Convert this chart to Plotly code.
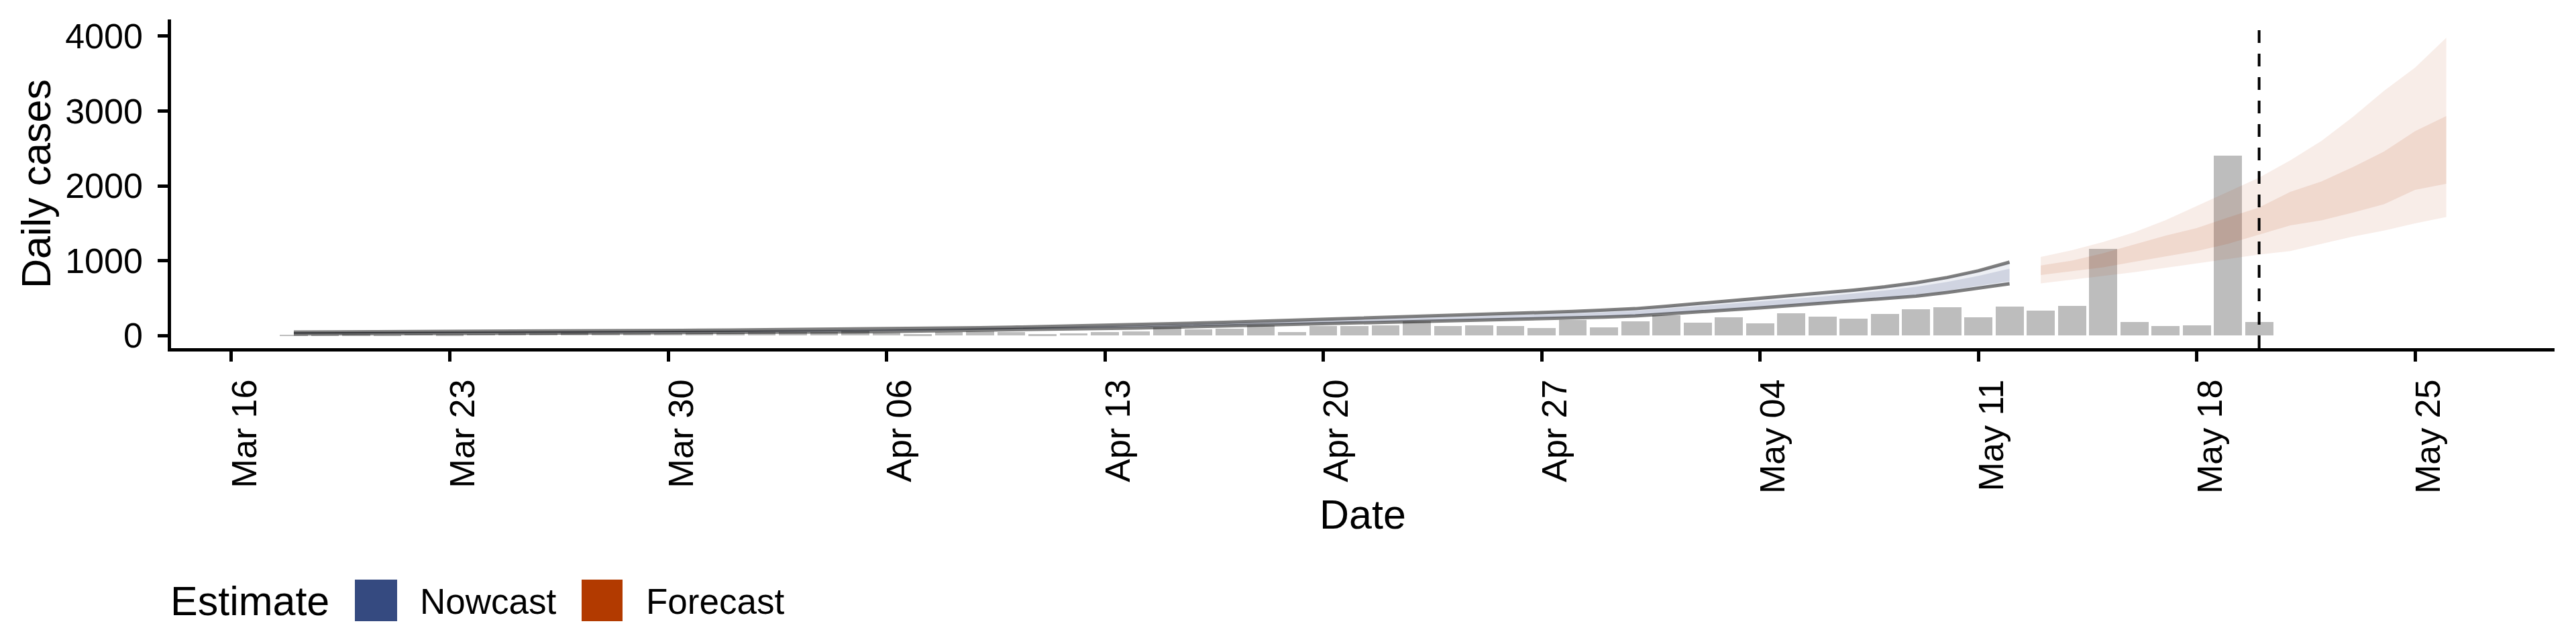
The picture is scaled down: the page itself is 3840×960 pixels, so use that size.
import pandas as pd
import plotly.graph_objects as go

# ---------------- data ----------------
BAR_START = "2020-03-18"
BAR_CASES = [8, 10, 14, 12, 20, 16, 22, 28, 25, 32, 30, 24, 30, 38, 35, 45, 42,
             48, 63, 33, 15, 48, 51, 42, 15, 24, 42, 51, 105, 81, 90, 133, 42, 126,
             122, 131, 188, 122, 131, 122, 103, 204, 105, 186,
             268, 168, 241, 159, 296, 250, 223, 287, 350, 378, 242, 387, 332, 396,
             1160, 178, 124, 133, 2400, 178]

NOW_START = "2020-03-18"
NOW_TOP = [45, 46, 48, 49, 51, 52, 54, 56, 58, 60, 62, 64, 66, 69, 72, 75, 78, 81, 84, 88,
           93, 98, 104, 110, 118, 127, 137, 147, 156, 166, 178, 190, 202, 214, 226, 238,
           250, 262, 275, 289, 304, 320, 338, 358, 390, 425, 460, 495, 525, 560, 605, 650,
           705, 775, 865, 980]
NOW_UPPER = [38, 39, 40, 41, 43, 44, 46, 47, 49, 51, 52, 54, 56, 58, 61, 64, 67, 70, 73, 77,
             82, 88, 94, 100, 108, 116, 124, 133, 142, 151, 163, 174, 186, 199, 210, 221,
             232, 243, 255, 267, 280, 294, 310, 329, 359, 391, 424, 457, 488, 521, 560, 601,
             651, 715, 796, 893]
NOW_LOWER = [23, 24, 25, 26, 27, 28, 29, 30, 32, 33, 34, 35, 36, 37, 39, 42, 45, 48, 51, 56,
             61, 67, 73, 80, 87, 94, 100, 106, 114, 123, 133, 144, 156, 169, 179, 189,
             198, 207, 216, 225, 234, 243, 256, 272, 298, 326, 354, 383, 415, 446, 473, 505,
             547, 599, 663, 725]
NOW_BOTTOM = [20, 21, 22, 23, 24, 25, 26, 27, 28, 29, 30, 31, 32, 33, 35, 37, 40, 43, 47, 52,
              57, 63, 69, 76, 83, 89, 95, 100, 108, 117, 127, 138, 150, 163, 173, 182,
              191, 200, 208, 216, 224, 232, 245, 260, 285, 312, 340, 368, 400, 430, 455, 485,
              525, 575, 635, 690]

FC_START = "2020-05-13"
FC_TOP = [1050, 1140, 1250, 1380, 1540, 1730, 1920, 2110, 2340, 2600, 2920, 3270, 3580, 3980]
FC_UPPER = [936, 1000, 1100, 1220, 1335, 1435, 1577, 1712, 1920, 2058, 2250, 2458, 2731, 2933]
FC_LOWER = [808, 856, 910, 984, 1054, 1128, 1224, 1346, 1470, 1538, 1641, 1753, 1946, 2026]
FC_BOTTOM = [696, 744, 792, 846, 904, 962, 1016, 1080, 1128, 1224, 1321, 1401, 1497, 1583]

FORECAST_DATE = "2020-05-20"

TICK_DATES = ["2020-03-16", "2020-03-23", "2020-03-30", "2020-04-06", "2020-04-13",
              "2020-04-20", "2020-04-27", "2020-05-04", "2020-05-11", "2020-05-18",
              "2020-05-25"]
TICK_LABELS = ["Mar 16", "Mar 23", "Mar 30", "Apr 06", "Apr 13", "Apr 20", "Apr 27",
               "May 04", "May 11", "May 18", "May 25"]
Y_TICKS = [0, 1000, 2000, 3000, 4000]

LEGEND_TITLE = "Estimate"
LEGEND_LABELS = ["Nowcast", "Forecast"]
X_TITLE = "Date"
Y_TITLE = "Daily cases"

# ---------------- style ----------------
FONT = "Liberation Sans, Arial, Helvetica, sans-serif"
NOWCAST_COL = "#354a80"
FORECAST_COL = "#b23a00"
BAR_COL = "#bdbdbd"

W, H = 3840, 960
ML, MR, MT, MB = 255, 32, 29, 441

bar_x = pd.date_range(BAR_START, periods=len(BAR_CASES), freq="D")
now_x = pd.date_range(NOW_START, periods=len(NOW_TOP), freq="D")
fc_x = pd.date_range(FC_START, periods=len(FC_TOP), freq="D")

fig = go.Figure()

fig.add_trace(go.Bar(x=bar_x, y=BAR_CASES, width=0.9 * 86400000,
                     marker=dict(color=BAR_COL, line=dict(width=0)),
                     showlegend=False, hoverinfo="skip"))


def ribbon(x, lo, hi, color):
    fig.add_trace(go.Scatter(x=x, y=lo, mode="lines", line=dict(width=0),
                             showlegend=False, hoverinfo="skip"))
    fig.add_trace(go.Scatter(x=x, y=hi, mode="lines", line=dict(width=0),
                             fill="tonexty", fillcolor=color,
                             showlegend=False, hoverinfo="skip"))


ribbon(now_x, NOW_BOTTOM, NOW_TOP, "rgba(53,74,128,0.09)")
ribbon(now_x, NOW_LOWER, NOW_UPPER, "rgba(53,74,128,0.16)")
for edge in (NOW_TOP, NOW_BOTTOM):
    fig.add_trace(go.Scatter(x=now_x, y=edge, mode="lines",
                             line=dict(color="rgba(0,0,0,0.5)", width=5),
                             showlegend=False, hoverinfo="skip"))

ribbon(fc_x, FC_BOTTOM, FC_TOP, "rgba(178,58,0,0.09)")
ribbon(fc_x, FC_LOWER, FC_UPPER, "rgba(178,58,0,0.11)")

shapes = [dict(type="line", xref="x", yref="paper", x0=FORECAST_DATE, x1=FORECAST_DATE,
               y0=0, y1=1, line=dict(color="black", width=4, dash="19px,16px"),
               layer="above")]

pw = W - ML - MR
ph = H - MT - MB


def px_x(p):
    return (p - ML) / pw


def px_y(p):
    return (H - MB - p) / ph


annotations = [
    dict(text=Y_TITLE, x=px_x(54), y=0.5, xref="paper", yref="paper", textangle=-90,
         showarrow=False, font=dict(family=FONT, size=61, color="black"),
         xanchor="center", yanchor="middle"),
    dict(text=X_TITLE, x=0.5, y=px_y(767), xref="paper", yref="paper",
         showarrow=False, font=dict(family=FONT, size=61, color="black"),
         xanchor="center", yanchor="middle"),
    dict(text=LEGEND_TITLE, x=px_x(252), y=px_y(896), xref="paper", yref="paper",
         showarrow=False, font=dict(family=FONT, size=61, color="black"),
         xanchor="left", yanchor="middle"),
]

legend_items = [(LEGEND_LABELS[0], NOWCAST_COL, 529, 592, 624),
                (LEGEND_LABELS[1], FORECAST_COL, 867, 928, 961)]
for label, col, sx0, sx1, tx in legend_items:
    shapes.append(dict(type="rect", xref="paper", yref="paper",
                       x0=px_x(sx0), x1=px_x(sx1), y0=px_y(926), y1=px_y(864),
                       fillcolor=col, line=dict(width=0), layer="above"))
    annotations.append(dict(text=label, x=px_x(tx), y=px_y(896), xref="paper", yref="paper",
                            showarrow=False, font=dict(family=FONT, size=53, color="black"),
                            xanchor="left", yanchor="middle"))

fig.update_layout(
    width=W, height=H,
    margin=dict(l=ML, r=MR, t=MT, b=MB, pad=0),
    paper_bgcolor="white", plot_bgcolor="white",
    font=dict(family=FONT, size=52, color="black"),
    showlegend=False,
    bargap=0,
    shapes=shapes,
    annotations=annotations,
)

fig.update_xaxes(
    type="date",
    range=["2020-03-14 01:34:00", "2020-05-29 11:17:00"],
    tickmode="array", tickvals=TICK_DATES, ticktext=TICK_LABELS,
    tickangle=-90, tickfont=dict(family=FONT, size=52, color="black"),
    ticks="outside", ticklen=15, tickwidth=4.5, tickcolor="black",
    ticklabelstandoff=6, ticklabelshift=20,
    showline=True, linecolor="black", linewidth=4.5,
    showgrid=False, zeroline=False,
)
fig.update_yaxes(
    range=[-170, 4224],
    tickmode="array", tickvals=Y_TICKS, ticktext=[str(v) for v in Y_TICKS],
    tickfont=dict(family=FONT, size=52, color="black"),
    ticks="outside", ticklen=15, tickwidth=4.5, tickcolor="black",
    ticklabelstandoff=12,
    showline=True, linecolor="black", linewidth=4.5,
    showgrid=False, zeroline=False,
)

fig.write_html("out.html", config={"displayModeBar": False},
               post_script="document.body.style.margin='0px';document.body.style.overflow='hidden';")
